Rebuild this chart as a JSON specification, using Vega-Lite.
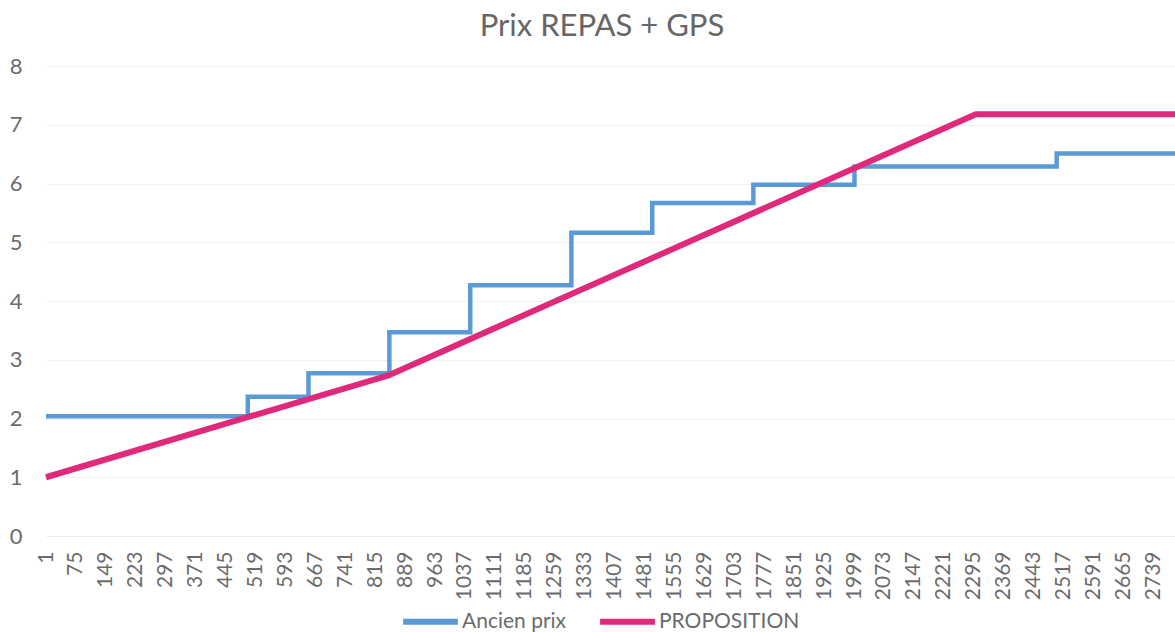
{
  "$schema": "https://vega.github.io/schema/vega-lite/v6.json",
  "width": 1130,
  "height": 470,
  "autosize": {"type": "none"},
  "padding": {"left": 46, "top": 66, "right": 0, "bottom": 96},
  "background": "white",
  "title": {
    "text": "Prix REPAS + GPS",
    "font": "Lato",
    "fontSize": 31,
    "fontWeight": "normal",
    "color": "#666666",
    "anchor": "middle",
    "dx": -9,
    "offset": 12
  },
  "config": {
    "view": {"stroke": null},
    "font": "Lato"
  },
  "datasets": {
    "ancien": [
      {"x": 1, "prix": 2.04, "serie": "Ancien prix"},
      {"x": 500, "prix": 2.37, "serie": "Ancien prix"},
      {"x": 650, "prix": 2.77, "serie": "Ancien prix"},
      {"x": 850, "prix": 3.47, "serie": "Ancien prix"},
      {"x": 1050, "prix": 4.27, "serie": "Ancien prix"},
      {"x": 1300, "prix": 5.16, "serie": "Ancien prix"},
      {"x": 1500, "prix": 5.67, "serie": "Ancien prix"},
      {"x": 1750, "prix": 5.98, "serie": "Ancien prix"},
      {"x": 2000, "prix": 6.29, "serie": "Ancien prix"},
      {"x": 2500, "prix": 6.51, "serie": "Ancien prix"},
      {"x": 2795, "prix": 6.51, "serie": "Ancien prix"}
    ],
    "proposition": [
      {"x": 1, "prix": 1.0, "serie": "PROPOSITION"},
      {"x": 850, "prix": 2.74, "serie": "PROPOSITION"},
      {"x": 2300, "prix": 7.18, "serie": "PROPOSITION"},
      {"x": 2795, "prix": 7.18, "serie": "PROPOSITION"}
    ]
  },
  "encoding": {
    "x": {
      "field": "x",
      "type": "quantitative",
      "scale": {"domain": [1, 2795], "nice": false, "zero": false},
      "axis": {
        "title": null,
        "values": [1, 75, 149, 223, 297, 371, 445, 519, 593, 667, 741, 815, 889, 963, 1037, 1111, 1185, 1259, 1333, 1407, 1481, 1555, 1629, 1703, 1777, 1851, 1925, 1999, 2073, 2147, 2221, 2295, 2369, 2443, 2517, 2591, 2665, 2739],
        "format": "d",
        "labelAngle": -90,
        "labelFontSize": 21,
        "labelColor": "#6b6b6b",
        "labelPadding": 15,
        "labelOverlap": false,
        "labelFlush": false,
        "ticks": false,
        "grid": false,
        "domain": true,
        "domainColor": "#ececec",
        "domainWidth": 1
      }
    },
    "y": {
      "field": "prix",
      "type": "quantitative",
      "scale": {"domain": [0, 8], "nice": false},
      "axis": {
        "title": null,
        "values": [0, 1, 2, 3, 4, 5, 6, 7, 8],
        "labelFontSize": 22,
        "labelColor": "#6b6b6b",
        "labelPadding": 24,
        "ticks": false,
        "domain": false,
        "grid": true,
        "gridColor": "#f0f0f0",
        "gridWidth": 1
      }
    },
    "color": {
      "field": "serie",
      "type": "nominal",
      "scale": {"domain": ["Ancien prix", "PROPOSITION"], "range": ["#5B9BD5", "#E0297B"]},
      "legend": {
        "title": null,
        "orient": "none",
        "direction": "horizontal",
        "legendX": 354,
        "legendY": 525,
        "symbolType": "stroke",
        "symbolSize": 3000,
        "symbolStrokeWidth": 6,
        "labelFontSize": 21,
        "labelColor": "#6b6b6b",
        "labelOffset": 1,
        "columnPadding": 21
      }
    }
  },
  "layer": [
    {
      "data": {"name": "ancien"},
      "mark": {"type": "line", "interpolate": "step-after", "strokeWidth": 4.5, "strokeJoin": "miter"}
    },
    {
      "data": {"name": "proposition"},
      "mark": {"type": "line", "strokeWidth": 6, "strokeJoin": "round"}
    }
  ]
}
